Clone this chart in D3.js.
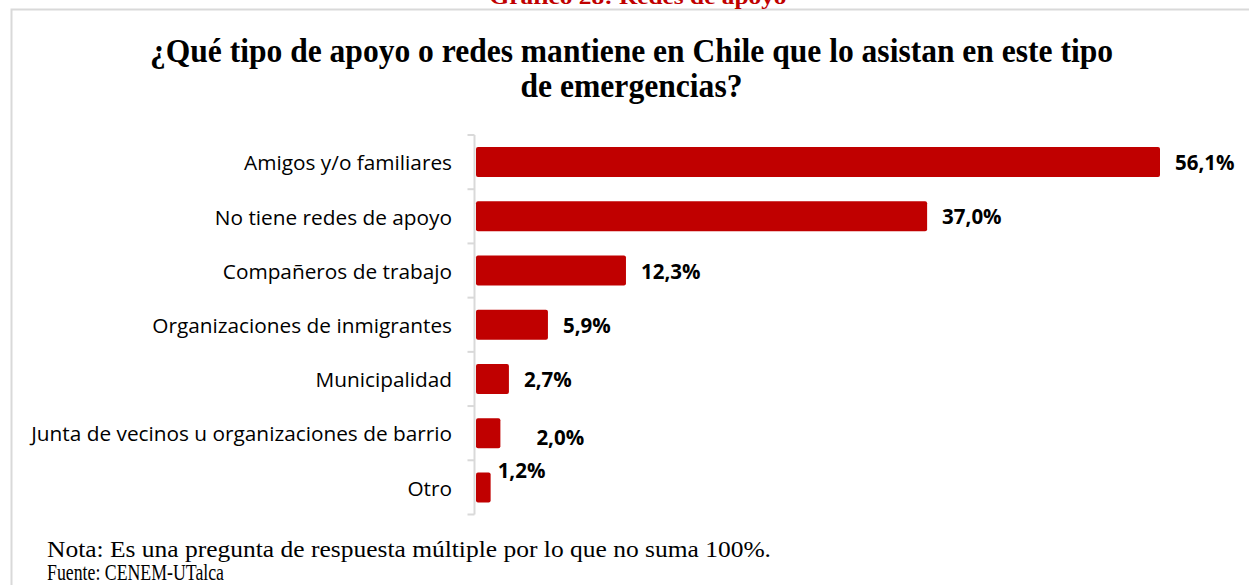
<!DOCTYPE html>
<html><head><meta charset="utf-8">
<script src="https://cdn.jsdelivr.net/npm/d3@7"></script>
<style>body{margin:0;background:#fff;overflow:hidden}</style>
</head><body>
<svg id="c" width="1249" height="585"></svg>
<script>
const categories = ["Amigos y/o familiares","No tiene redes de apoyo","Compañeros de trabajo","Organizaciones de inmigrantes","Municipalidad","Junta de vecinos u organizaciones de barrio","Otro"];
const values = [56.1, 37.0, 12.3, 5.9, 2.7, 2.0, 1.2];
const valueLabels = ["56,1%","37,0%","12,3%","5,9%","2,7%","2,0%","1,2%"];
const titleLines = ["¿Qué tipo de apoyo o redes mantiene en Chile que lo asistan en este tipo","de emergencias?"];
const topCaption = "Gráfico 28: Redes de apoyo";
const notes = ["Nota: Es una pregunta de respuesta múltiple por lo que no suma 100%.","Fuente: CENEM-UTalca"];

const svg = d3.select("#c");
const red = "#C00000";

// chart frame
svg.append("path").attr("d","M11.5,590 V9.5 H1260").attr("fill","none").attr("stroke","#d9d9d9").attr("stroke-width",2);

// cut-off caption (as in the original, only its lower part shows)
svg.append("text").attr("x",638).attr("y",4).attr("text-anchor","middle")
  .attr("font-family","Liberation Serif").attr("font-weight","bold").attr("font-size",22)
  .attr("textLength",297).attr("lengthAdjust","spacingAndGlyphs")
  .attr("fill",red).text(topCaption);

// title
const tw = [963, 222];
titleLines.forEach((t,i)=>{
  svg.append("text").attr("x",631.5).attr("y",62+i*35).attr("text-anchor","middle")
    .attr("font-family","Liberation Serif").attr("font-weight","bold").attr("font-size",34)
    .attr("textLength",tw[i]).attr("lengthAdjust","spacingAndGlyphs")
    .attr("fill","#000").text(t);
});

// scales
const x = d3.scaleLinear().domain([0, 56.1]).range([476, 1160]);
const y = d3.scaleBand().domain(categories).range([135, 514.5]).paddingInner(0).paddingOuter(0);
const barPad = 0.223;

// axis
const axisX = 474.5;
svg.append("line").attr("x1",axisX).attr("x2",axisX).attr("y1",y.range()[0]).attr("y2",y.range()[1])
  .attr("stroke","#d9d9d9").attr("stroke-width",2);
const tickYs = categories.map(c=>y(c)).concat([y.range()[1]]);
svg.selectAll(".tick").data(tickYs).enter().append("line")
  .attr("x1",axisX-7).attr("x2",axisX).attr("y1",d=>d).attr("y2",d=>d)
  .attr("stroke","#d9d9d9").attr("stroke-width",2);

// category labels
svg.selectAll(".cat").data(categories).enter().append("text")
  .attr("x",452).attr("y",d=>y(d)+y.bandwidth()/2+1).attr("dy","0.35em")
  .attr("text-anchor","end").attr("font-family","'Open Sans', sans-serif").attr("font-size",20.8)
  .attr("fill","#000").text(d=>d);

// bars
const data = categories.map((c,i)=>({c, v:values[i], l:valueLabels[i]}));
svg.selectAll(".bar").data(data).enter().append("rect")
  .attr("x",x(0)).attr("y",d=>y(d.c)+y.bandwidth()*barPad)
  .attr("width",d=>x(d.v)-x(0)).attr("height",y.bandwidth()*(1-2*barPad))
  .attr("rx",2).attr("fill",red);

// value labels (manual nudges for the small ones, as in the original)
const nudgeX = [0,0,0,0,0,21,-8];
const nudgeY = [0,0,0,0,0,4,-18];
svg.selectAll(".val").data(data).enter().append("text")
  .attr("x",(d,i)=>x(d.v)+15+nudgeX[i]).attr("y",(d,i)=>y(d.c)+y.bandwidth()/2+1+nudgeY[i]).attr("dy","0.35em")
  .attr("font-family","'Open Sans', sans-serif").attr("font-weight","bold").attr("font-size",20.5)
  .attr("fill","#000").text(d=>d.l);

// notes
const nw = [724, 177];
notes.forEach((t,i)=>{
  svg.append("text").attr("x",47).attr("y",557+i*23)
    .attr("font-family","Liberation Serif").attr("font-size",23)
    .attr("textLength",nw[i]).attr("lengthAdjust","spacingAndGlyphs")
    .attr("fill","#000").text(t);
});
</script>
</body></html>
